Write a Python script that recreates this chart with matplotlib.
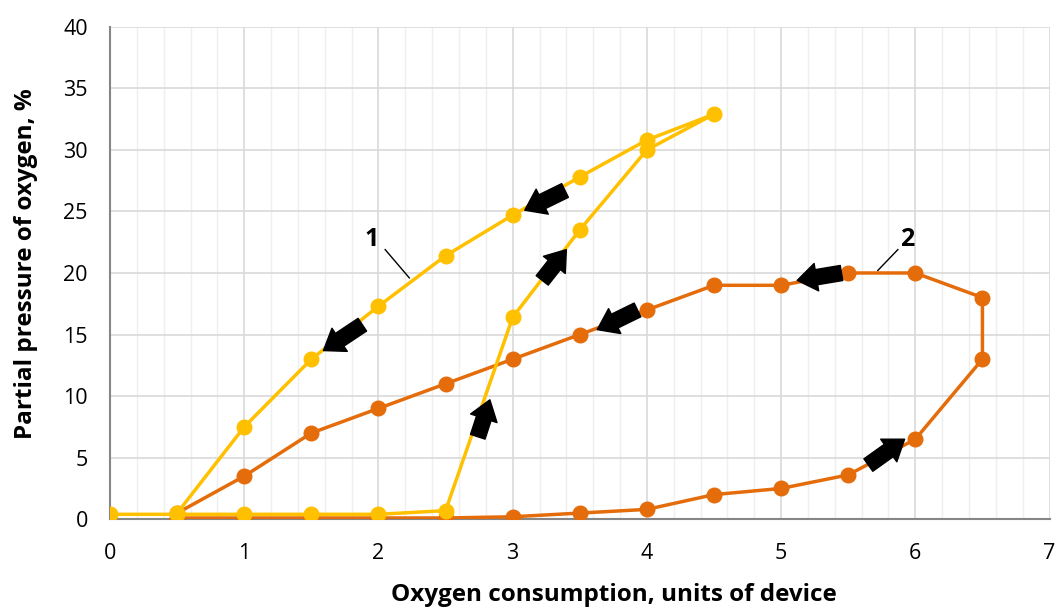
import matplotlib.pyplot as plt
import numpy as np

plt.rcParams['font.family'] = ['Open Sans', 'DejaVu Sans']

# curve 1 (yellow loop)
x1 = [0, 0.5, 1, 1.5, 2, 2.5, 3, 3.5, 4, 4.5, 4, 3.5, 3, 2.5, 2, 1.5, 1, 0.5]
y1 = [0.4, 0.4, 0.4, 0.4, 0.4, 0.7, 16.4, 23.5, 30.0, 32.9, 30.8, 27.8, 24.7, 21.4, 17.3, 13.0, 7.5, 0.5]

# curve 2 (orange loop)
x2 = [0.5, 1, 1.5, 2, 2.5, 3, 3.5, 4, 4.5, 5, 5.5, 6, 6.5, 6.5, 6, 5.5, 5, 4.5, 4, 3.5, 3, 2.5, 2, 1.5, 1, 0.5]
y2 = [0.1, 0.1, 0.1, 0.1, 0.1, 0.2, 0.5, 0.8, 2.0, 2.5, 3.6, 6.5, 13.0, 18.0, 20.0, 20.0, 19.0, 19.0, 17.0, 15.0, 13.0, 11.0, 9.0, 7.0, 3.5, 0.5]

# direction arrows: (tail_x, tail_y, head_x, head_y)
arrows = [
    (3.39, 26.7, 3.09, 25.1),
    (1.88, 15.8, 1.59, 13.7),
    (3.22, 19.4, 3.40, 21.9),
    (2.74, 6.7, 2.83, 9.7),
    (3.93, 17.0, 3.63, 15.4),
    (5.45, 20.0, 5.12, 19.4),
    (5.65, 4.4, 5.92, 6.5),
]

yellow = '#FFC000'
orange = '#E46C0A'

fig = plt.figure(figsize=(10.58, 6.08), dpi=100)
ax = fig.add_axes([0.104, 0.146, 0.888, 0.81])

ax.plot(x2, y2, color=orange, linewidth=2.5, marker='o', markersize=10.5, zorder=3)
ax.plot(x1, y1, color=yellow, linewidth=2.5, marker='o', markersize=10.5, zorder=4)

for tx, ty, hx, hy in arrows:
    ax.annotate('', xy=(hx, hy), xytext=(tx, ty),
                arrowprops=dict(arrowstyle='simple,head_length=0.7,head_width=1.0,tail_width=0.55',
                                color='black', mutation_scale=20, shrinkA=0, shrinkB=0),
                zorder=6)

# curve labels with leader lines
ax.text(1.95, 22.7, '1', fontsize=18, fontweight='bold', ha='center', va='center')
ax.plot([2.05, 2.23], [21.9, 19.6], color='black', linewidth=1)
ax.text(5.94, 22.7, '2', fontsize=18, fontweight='bold', ha='center', va='center')
ax.plot([5.87, 5.72], [21.9, 20.2], color='black', linewidth=1)

ax.set_xlim(0, 7)
ax.set_ylim(0, 40)
ax.set_xticks(np.arange(0, 8, 1))
ax.set_yticks(np.arange(0, 45, 5))
ax.set_xticks(np.arange(0, 7.01, 0.2), minor=True)
ax.grid(True, which='major', color='#d9d9d9', linewidth=1.2, zorder=0)
ax.grid(True, which='minor', axis='x', color='#efefef', linewidth=1, zorder=0)
ax.set_axisbelow(True)
ax.tick_params(which='both', length=0, labelsize=15.5)
ax.tick_params(axis='x', pad=17)
ax.tick_params(axis='y', pad=16)

for s in ['top', 'right']:
    ax.spines[s].set_visible(False)
for s in ['left', 'bottom']:
    ax.spines[s].set_color('#868686')
    ax.spines[s].set_linewidth(1.5)

ax.set_xlabel('Oxygen consumption, units of device', fontsize=17.5, fontweight='bold')
ax.set_ylabel('Partial pressure of oxygen, %', fontsize=17.5, fontweight='bold')
ax.xaxis.set_label_coords(0.536, -0.129)
ax.yaxis.set_label_coords(-0.077, 0.52)

plt.savefig('out.png', dpi=100)
